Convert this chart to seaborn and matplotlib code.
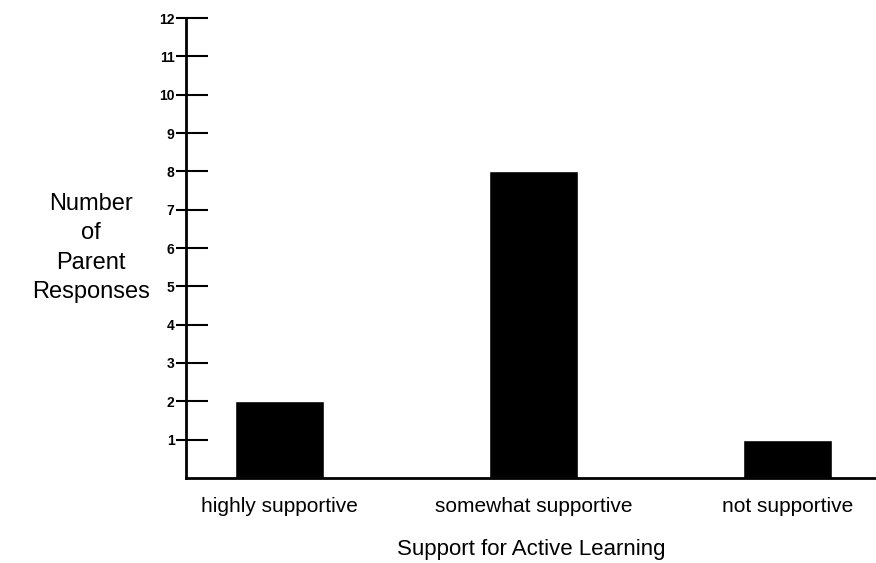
import matplotlib
matplotlib.use("Agg")
import matplotlib.pyplot as plt
import seaborn as sns
import pandas as pd

categories = ["highly supportive", "somewhat supportive", "not supportive"]
responses = [2, 8, 1]
y_ticks = list(range(1, 13))

sns.set_theme(style="white")
plt.rcParams["font.family"] = ["Liberation Sans", "DejaVu Sans"]

df = pd.DataFrame({"category": categories, "responses": responses})

fig = plt.figure(figsize=(8.76, 5.63), dpi=100)
ax = fig.add_axes([0.212, 0.151, 0.788, 0.817])

sns.barplot(data=df, x="category", y="responses", color="black",
            width=0.35, saturation=1, ax=ax)

ax.set_ylim(0, 12)
ax.set_xlim(-0.37, 2.35)
ax.set_yticks(y_ticks)
ax.set_yticklabels([str(t) for t in y_ticks], fontsize=10, fontweight="bold")
# ticks cross the axis: short part outside, longer part inside
ax.set_yticks(y_ticks, minor=True)
ax.yaxis.remove_overlapping_locs = False
ax.tick_params(axis="y", which="major", left=True, direction="out", length=7,
               width=1.5, color="black", labelcolor="black", pad=1)
ax.tick_params(axis="y", which="minor", left=True, direction="in", length=16,
               width=1.5, color="black")
ax.tick_params(axis="x", bottom=False, labelsize=15, labelcolor="black", pad=8)

sns.despine(ax=ax)
for side in ["left", "bottom"]:
    ax.spines[side].set_color("black")
    ax.spines[side].set_linewidth(2)

ax.set_xlabel("Support for Active Learning", fontsize=16, color="black", labelpad=16)
ax.set_ylabel("Number\nof\nParent\nResponses", fontsize=17, rotation=0,
              ha="center", va="center", color="black", linespacing=1.45)
ax.yaxis.set_label_coords(-0.137, 0.5)

fig.savefig("out.png", dpi=100)
